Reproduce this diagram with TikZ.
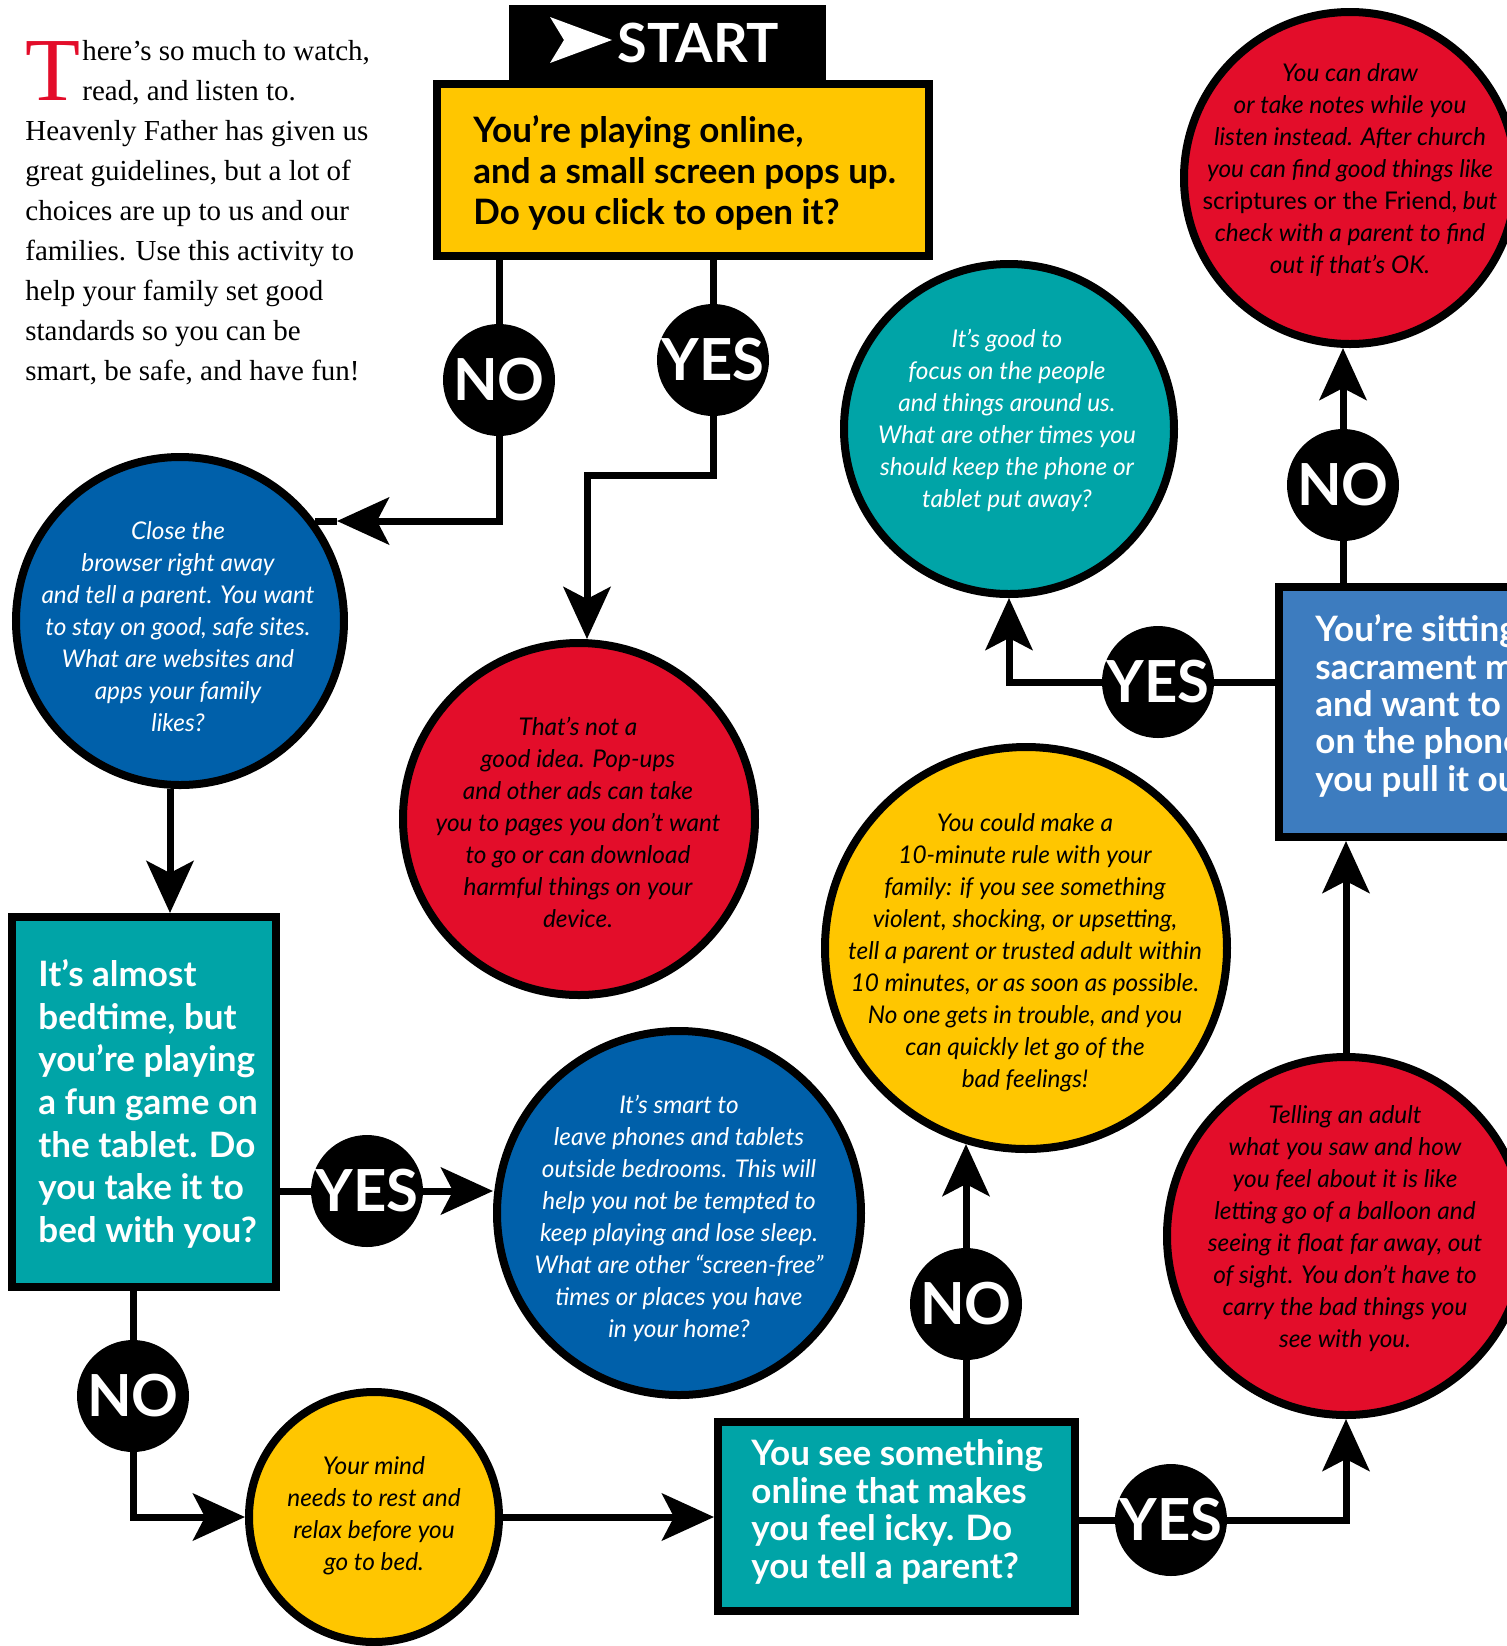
\documentclass[tikz,border=0pt]{standalone}
\usepackage{fontspec}
\setmainfont{Liberation Serif}
\newfontfamily\lato{Lato}
\usetikzlibrary{arrows.meta,calc}
\definecolor{cred}{HTML}{E30D2A}
\definecolor{cyel}{HTML}{FFC600}
\definecolor{cblue}{HTML}{0060AA}
\definecolor{cteal}{HTML}{00A4A7}
\definecolor{cbox}{HTML}{3D7CBF}
\pgfdeclarelayer{bg}
\pgfsetlayers{bg,main}
\tikzset{
 bubble/.style={circle, draw=black, line width=4pt, inner sep=0pt},
 yn/.style={circle, fill=black, inner sep=0pt, minimum size=56pt, text=white, font=\lato\bfseries\fontsize{29}{30}\selectfont},
 qbox/.style={rectangle, draw=black, line width=4pt, inner sep=0pt},
 ctext/.style={align=center, inner sep=0pt, font=\lato\itshape\fontsize{12.2}{16}\selectfont},
 btext/.style={align=left, anchor=west, inner sep=0pt},
 conn/.style={line width=3.5pt, draw=black},
 arr/.style={-{Stealth[length=26pt,width=23.5pt,inset=6pt]}},
 intro/.style={anchor=base west, inner sep=0pt, font=\fontsize{14.5}{20}\selectfont},
}
\begin{document}
\begin{tikzpicture}[x=0.5pt,y=-0.5pt]
\useasboundingbox (0,0) rectangle (1507,1646);
\begin{pgfonlayer}{bg}
\fill[white] (0,0) rectangle (1507,1646);
\end{pgfonlayer}
\clip (0,0) rectangle (1507,1646);

% intro text
\node[intro, text=cred, font=\fontsize{45}{45}\selectfont] (dropT) at (25,100) {T};
\node[intro] (l1) at (82,60) {here’s so much to watch,};
\node[intro] (l2) at (82,100) {read, and listen to.};
\node[intro] (l3) at (25,140) {Heavenly Father has given us};
\node[intro] (l4) at (25,180) {great guidelines, but a lot of};
\node[intro] (l5) at (25,220) {choices are up to us and our};
\node[intro] (l6) at (25,260) {families. Use this activity to};
\node[intro] (l7) at (25,300) {help your family set good};
\node[intro] (l8) at (25,340) {standards so you can be};
\node[intro] (l9) at (25,380) {smart, be safe, and have fun!};

% start
\node[fill=black, minimum width=158.5pt, minimum height=39.5pt, inner sep=0pt] (startbox) at (667.5,44.5) {};
\fill[white] (550,17) -- (612,40) -- (550,63) -- (564,40) -- cycle;
\node[anchor=base west, inner sep=0pt, text=white, font=\lato\bfseries\fontsize{27}{30}\selectfont] (starttext) at (617,62) {START};
\node[qbox, fill=cyel, minimum width=246pt, minimum height=86pt] (q1) at (683,170) {};
\node[btext, font=\lato\bfseries\fontsize{17.5}{20.5}\selectfont] (q1t) at (473,173) {You’re playing online,\\and a small screen pops up.\\Do you click to open it?};

% boxes
\node[qbox, fill=cteal, minimum width=132pt, minimum height=185pt] (b1) at (144,1102) {};
\node[btext, text=white, font=\lato\bfseries\fontsize{17.5}{21.3}\selectfont] (b1t) at (38,1104) {It’s almost\\bedtime, but\\you’re playing\\a fun game on\\the tablet. Do\\you take it to\\bed with you?};
\node[qbox, fill=cteal, minimum width=178.5pt, minimum height=94.5pt] (b2) at (896.5,1516.5) {};
\node[btext, text=white, font=\lato\bfseries\fontsize{17.5}{18.75}\selectfont] (b2t) at (751,1512) {You see something\\online that makes\\you feel icky. Do\\you tell a parent?};
\node[qbox, fill=cbox, minimum width=138.5pt, minimum height=125pt] (b3) at (1417.5,712) {};
\node[btext, text=white, font=\lato\bfseries\fontsize{17.5}{18.7}\selectfont] (b3t) at (1315,706) {You’re sitting\\sacrament meeting\\and want to\\on the phone\\you pull it out};

% circles
\node[bubble, fill=cblue, minimum size=164pt] (c1) at (180,621) {};
\node[ctext, text=white] (c1t) at (178,627) {Close the\\browser right away\\and tell a parent. You want\\to stay on good, safe sites.\\What are websites and\\apps your family\\likes?};
\node[bubble, fill=cred, minimum size=176pt] (c2) at (579,819) {};
\node[ctext] (c2t) at (578,822) {That’s not a\\good idea. Pop-ups\\and other ads can take\\you to pages you don’t want\\to go or can download\\harmful things on your\\device.};
\node[bubble, fill=cteal, minimum size=165pt] (c3) at (1009,429) {};
\node[ctext, text=white] (c3t) at (1007,420) {It’s good to\\focus on the people\\and things around us.\\What are other times you\\should keep the phone or\\tablet put away?};
\node[bubble, fill=cred, minimum size=166pt] (c4) at (1350,178) {};
\node[ctext] (c4t) at (1350,170) {You can draw\\or take notes while you\\listen instead. After church\\you can find good things like\\{\upshape scriptures or the Friend,} but\\check with a parent to find\\out if that’s OK.};
\node[bubble, fill=cyel, minimum size=201pt] (c5) at (1026,948) {};
\node[ctext] (c5t) at (1025,953) {You could make a\\10-minute rule with your\\family: if you see something\\violent, shocking, or upsetting,\\tell a parent or trusted adult within\\10 minutes, or as soon as possible.\\No one gets in trouble, and you\\can quickly let go of the\\bad feelings!};
\node[bubble, fill=cred, minimum size=179pt] (c6) at (1346,1236) {};
\node[ctext] (c6t) at (1345,1229) {Telling an adult\\what you saw and how\\you feel about it is like\\letting go of a balloon and\\seeing it float far away, out\\of sight. You don’t have to\\carry the bad things you\\see with you.};
\node[bubble, fill=cblue, minimum size=182pt] (c7) at (679,1213) {};
\node[ctext, text=white] (c7t) at (679,1218) {It’s smart to\\leave phones and tablets\\outside bedrooms. This will\\help you not be tempted to\\keep playing and lose sleep.\\What are other “screen-free”\\times or places you have\\in your home?};
\node[bubble, fill=cyel, minimum size=125pt] (c8) at (374,1517) {};
\node[ctext] (c8t) at (374,1516) {Your mind\\needs to rest and\\relax before you\\go to bed.};

% yes / no
\node[yn] (no1) at (499,380) {NO};
\node[yn] (yes1) at (713,360) {YES};
\node[yn] (no5) at (1343,485) {NO};
\node[yn] (yes4) at (1158,682) {YES};
\node[yn] (yes2) at (367,1191) {YES};
\node[yn] (no3) at (133,1396) {NO};
\node[yn] (no4) at (966,1304) {NO};
\node[yn] (yes5) at (1171,1520) {YES};

\coordinate (t1) at (337,521);
\coordinate (t1e) at (315,521);
\coordinate (j2) at (587,475);

\begin{pgfonlayer}{bg}
\draw[conn,arr] (q1.south -| no1) |- (t1);
\draw[conn] (t1) -- (t1e);
\draw[conn,arr] (q1.south -| yes1) |- (j2) -- (j2 |- c2.north);
\draw[conn,arr] ([xshift=-5pt]c1.south) -- ([xshift=-5pt]c1.south |- b1.north);
\draw[conn,arr] (b1.east |- yes2) -- (yes2 -| c7.west);
\draw[conn,arr] (b1.south -| no3) |- (c8.west);
\draw[conn,arr] (c8.east) -- (c8.east -| b2.west);
\draw[conn,arr] (b2.north -| no4) -- (no4 |- c5.253);
\draw[conn,arr] (b2.east |- yes5) -| (c6.south);
\draw[conn,arr] (c6.north) -- (c6.north |- b3.south);
\draw[conn,arr] (b3.north -| no5) -- (no5 |- c4.south);
\draw[conn,arr] (b3.west |- yes4) -| (c3.south);
\end{pgfonlayer}
\end{tikzpicture}
\end{document}
